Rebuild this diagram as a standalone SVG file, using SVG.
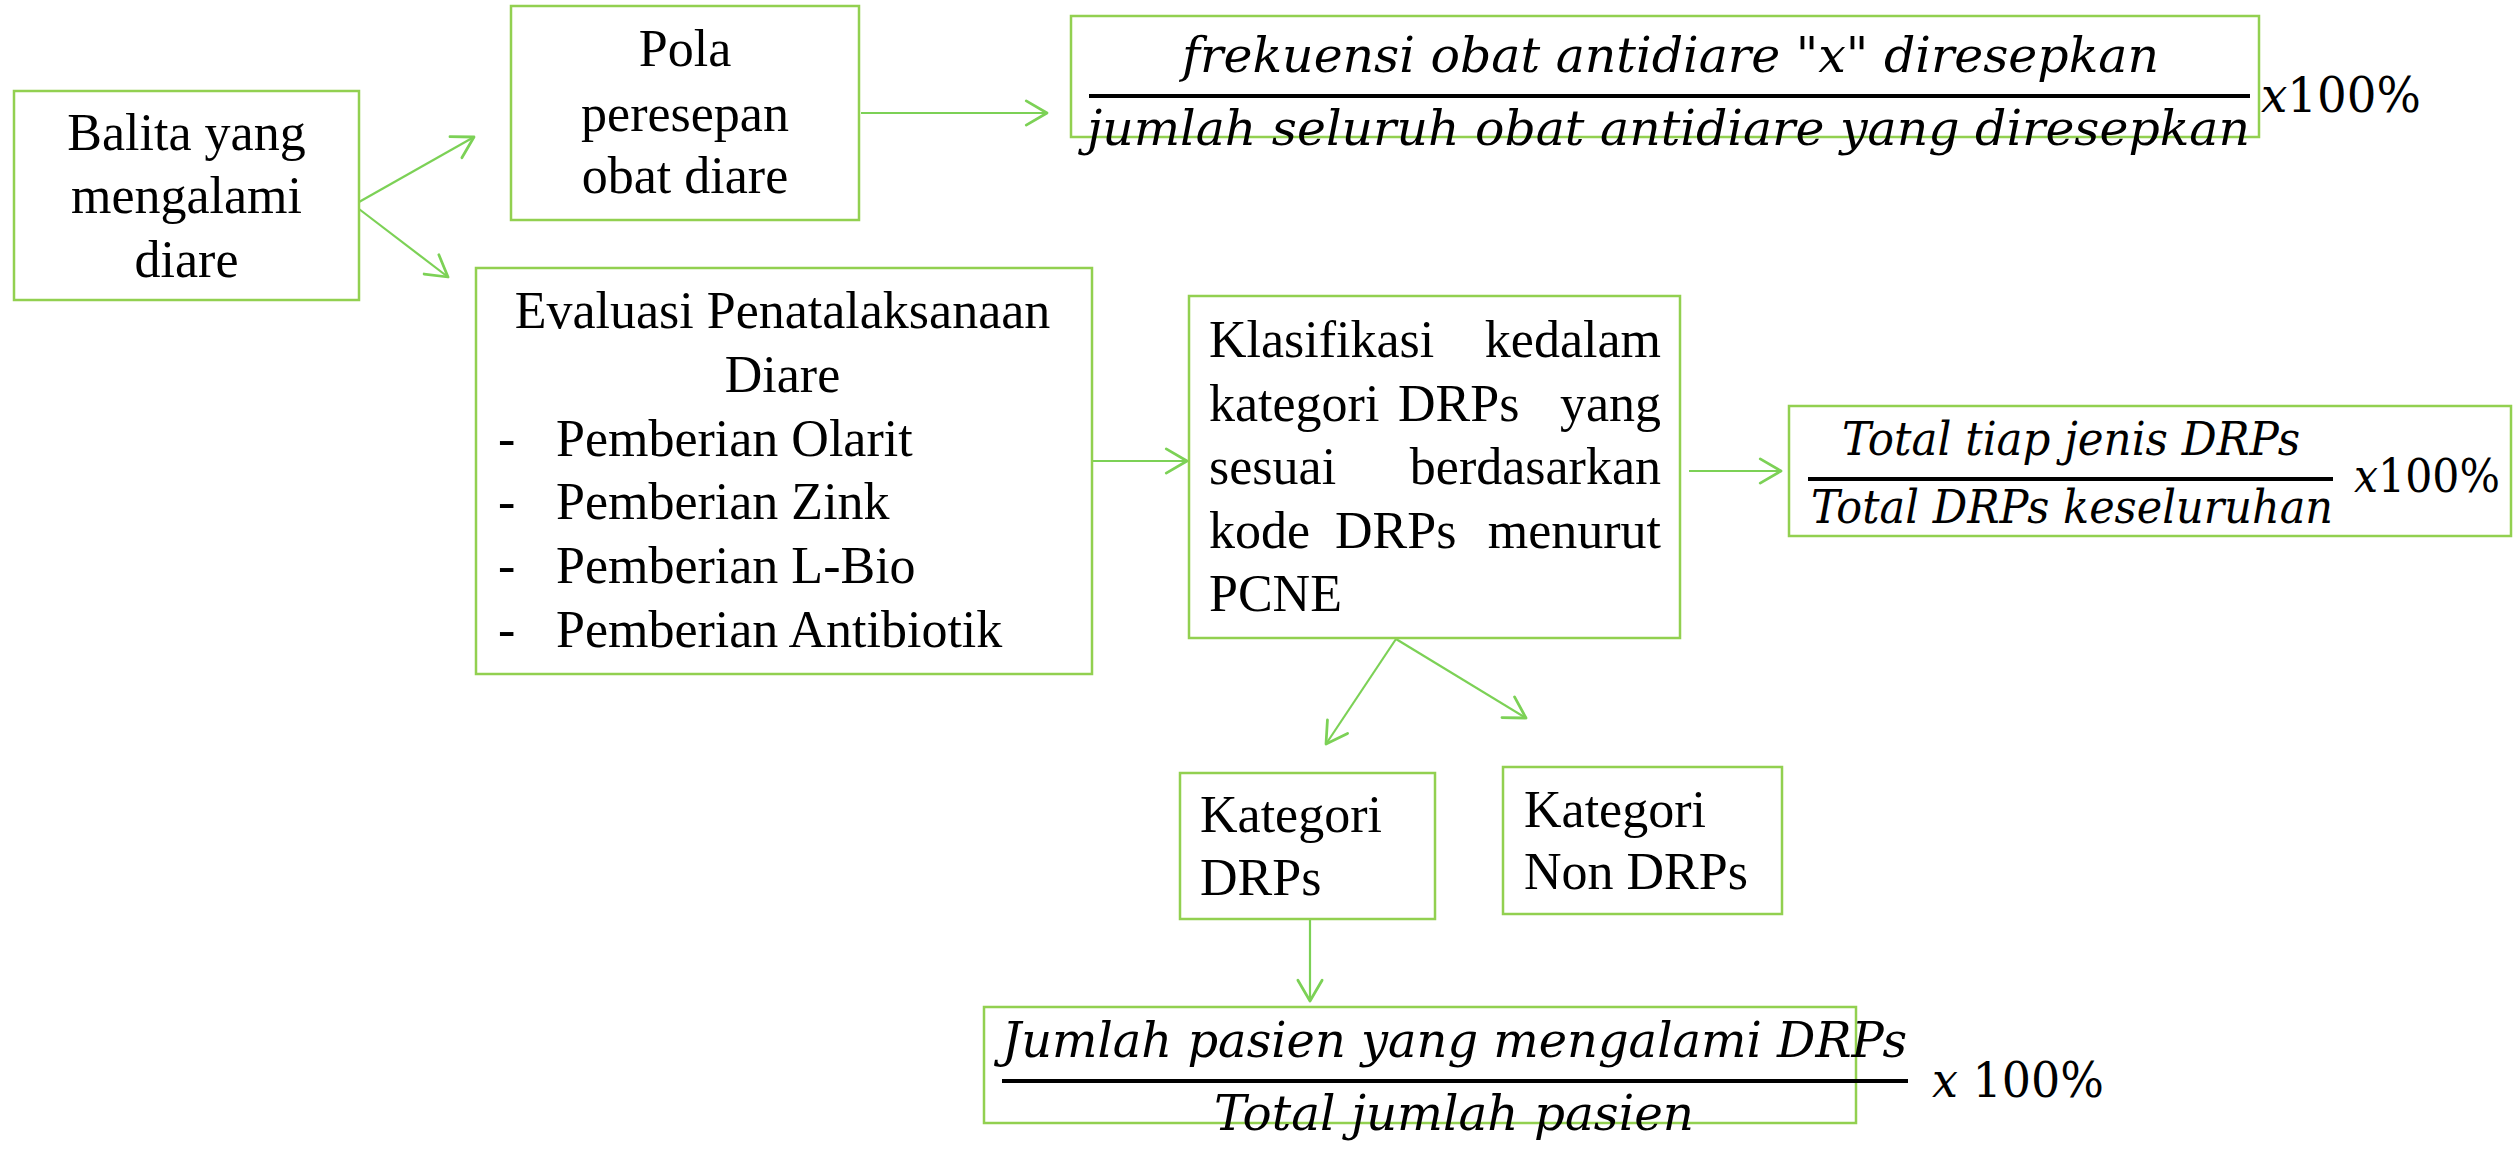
<svg xmlns="http://www.w3.org/2000/svg" width="2514" height="1150" viewBox="0 0 2514 1150">
<defs>
<style>
.box{fill:#ffffff;stroke:#92D050;stroke-width:2.5}
.t{font-family:"Liberation Serif","Times New Roman",serif;font-size:52px;fill:#000}
.c{text-anchor:middle}
.e{text-anchor:end}
.m{font-family:"DejaVu Serif","Liberation Serif",serif;font-style:italic;font-size:49px;fill:#000}
.m2{font-size:47px}
.u{font-style:normal}
.bar{fill:#000}
.conn{stroke:#7CD156;stroke-width:2.2;fill:none;marker-end:url(#ah)}
</style>
<marker id="ah" markerUnits="userSpaceOnUse" markerWidth="30" markerHeight="30" viewBox="-22 -13 26 26" refX="0" refY="0" orient="auto">
<path d="M-18,-10.5 L0,0 L-18,10.5" fill="none" stroke="#7CD156" stroke-width="2.4" stroke-linecap="round" stroke-linejoin="round"/>
</marker>
</defs>
<rect width="2514" height="1150" fill="#fff"/>

<g id="connectors">
<line class="conn" x1="359" y1="202" x2="474" y2="137"/>
<line class="conn" x1="359" y1="209" x2="448" y2="277"/>
<line class="conn" x1="861" y1="113" x2="1047" y2="113"/>
<line class="conn" x1="1092" y1="461" x2="1187" y2="461"/>
<line class="conn" x1="1689" y1="471" x2="1781" y2="471"/>
<line class="conn" x1="1396" y1="639" x2="1326" y2="744"/>
<line class="conn" x1="1396" y1="639" x2="1526" y2="718"/>
<line class="conn" x1="1310" y1="919" x2="1310" y2="1001"/>
</g>

<g id="balita">
<rect class="box" x="14" y="91" width="345" height="209"/>
<text class="t c" x="186.5" y="150">Balita yang</text>
<text class="t c" x="186.5" y="213">mengalami</text>
<text class="t c" x="186.5" y="277">diare</text>
</g>

<g id="pola">
<rect class="box" x="511" y="6" width="348" height="214"/>
<text class="t c" x="685" y="66">Pola</text>
<text class="t c" x="685" y="131">peresepan</text>
<text class="t c" x="685" y="193">obat diare</text>
</g>

<g id="formula-pola">
<rect class="box" x="1071" y="16" width="1188" height="121"/>
<text class="m" x="1182" y="72" textLength="977" lengthAdjust="spacingAndGlyphs">frekuensi  obat antidiare "x" diresepkan</text>
<rect class="bar" x="1089" y="94" width="1161" height="4"/>
<text class="m" x="1087" y="145" textLength="1163" lengthAdjust="spacingAndGlyphs">jumlah seluruh obat antidiare  yang diresepkan</text>
<text class="m" x="2261" y="112" textLength="160" lengthAdjust="spacingAndGlyphs">x<tspan class="u">100%</tspan></text>
</g>

<g id="evaluasi">
<rect class="box" x="476" y="268" width="616" height="406"/>
<text class="t c" x="782.5" y="328">Evaluasi Penatalaksanaan</text>
<text class="t c" x="782.5" y="392">Diare</text>
<text class="t" x="498" y="456">-</text><text class="t" x="556" y="456">Pemberian Olarit</text>
<text class="t" x="498" y="519">-</text><text class="t" x="556" y="519">Pemberian Zink</text>
<text class="t" x="498" y="583">-</text><text class="t" x="556" y="583">Pemberian L-Bio</text>
<text class="t" x="498" y="647">-</text><text class="t" x="556" y="647">Pemberian Antibiotik</text>
</g>

<g id="klasifikasi">
<rect class="box" x="1189" y="296" width="491" height="342"/>
<text class="t" x="1209" y="357">Klasifikasi</text><text class="t e" x="1661" y="357">kedalam</text>
<text class="t" x="1209" y="421">kategori</text><text class="t" x="1398" y="421">DRPs</text><text class="t e" x="1661" y="421">yang</text>
<text class="t" x="1209" y="484">sesuai</text><text class="t e" x="1661" y="484">berdasarkan</text>
<text class="t" x="1209" y="548">kode</text><text class="t" x="1335" y="548">DRPs</text><text class="t e" x="1661" y="548">menurut</text>
<text class="t" x="1209" y="611">PCNE</text>
</g>

<g id="formula-drps">
<rect class="box" x="1789" y="406" width="722" height="130"/>
<text class="m m2" x="1842" y="455" textLength="458" lengthAdjust="spacingAndGlyphs">Total tiap jenis DRPs</text>
<rect class="bar" x="1808" y="477" width="525" height="4"/>
<text class="m m2" x="1811" y="523" textLength="522" lengthAdjust="spacingAndGlyphs">Total DRPs keseluruhan</text>
<text class="m m2" x="2354" y="492" textLength="146" lengthAdjust="spacingAndGlyphs">x<tspan class="u">100%</tspan></text>
</g>

<g id="kategori-drps">
<rect class="box" x="1180" y="773" width="255" height="146"/>
<text class="t" x="1200" y="832">Kategori</text>
<text class="t" x="1200" y="895">DRPs</text>
</g>

<g id="kategori-non-drps">
<rect class="box" x="1503" y="767" width="279" height="147"/>
<text class="t" x="1524" y="827">Kategori</text>
<text class="t" x="1524" y="889">Non DRPs</text>
</g>

<g id="formula-pasien">
<rect class="box" x="984" y="1007" width="872" height="116"/>
<text class="m" x="1002" y="1057" textLength="905" lengthAdjust="spacingAndGlyphs">Jumlah pasien yang mengalami DRPs</text>
<rect class="bar" x="1002" y="1079" width="906" height="4"/>
<text class="m" x="1214" y="1130" textLength="480" lengthAdjust="spacingAndGlyphs">Total jumlah pasien</text>
<text class="m" x="1932" y="1097" textLength="172" lengthAdjust="spacingAndGlyphs">x <tspan class="u">100%</tspan></text>
</g>
</svg>
